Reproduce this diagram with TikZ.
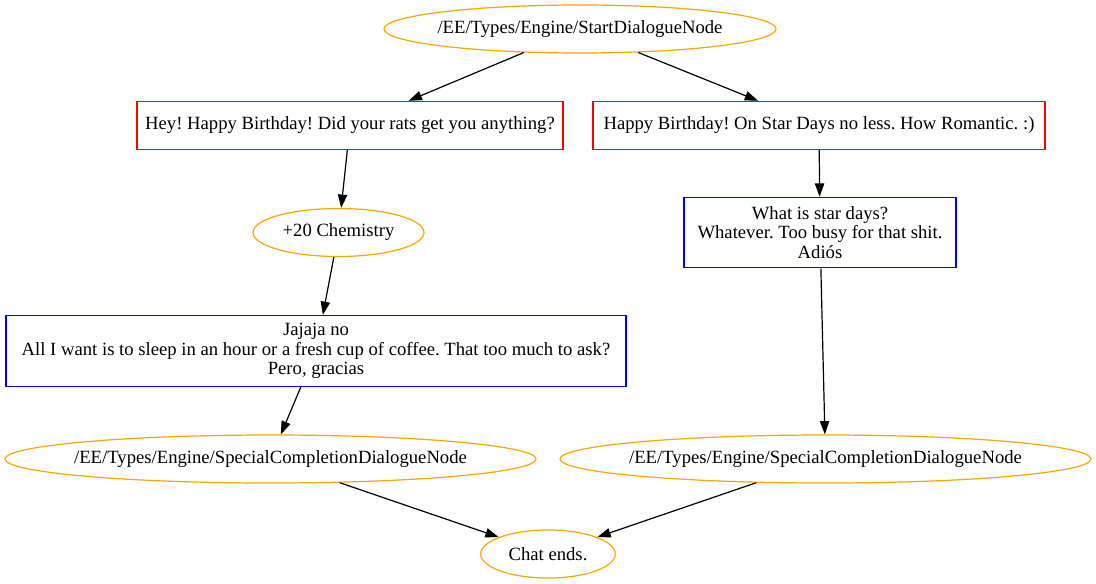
\documentclass[tikz,border=0pt]{standalone}
\usepackage{fontspec}
\setmainfont{Liberation Serif}
\usetikzlibrary{shapes.geometric,arrows.meta}
\definecolor{gvorange}{RGB}{255,165,0}
\definecolor{gvred}{RGB}{255,0,0}
\definecolor{gvblue}{RGB}{0,0,255}
\begin{document}
\frenchspacing
\begin{tikzpicture}[x=1pt,y=-1pt,
  every node/.style={font=\fontsize{18.67}{19.7}\selectfont\frenchspacing, inner sep=0pt, align=center},
  oval/.style={ellipse, draw=gvorange, line width=1.2pt, inner xsep=-40pt, minimum height=48pt},
  redbox/.style={rectangle, draw=gvred, line width=1.2pt, minimum height=48pt},
  bluebox/.style={rectangle, draw=gvblue, line width=1.2pt},
  link/.style={draw=black, line width=1.2pt, -{Triangle[length=13.3pt,width=9.3pt]}}]
\useasboundingbox (0,0) rectangle (1096,584);
\node[oval, minimum width=392pt] (start) at (580,29) {/EE/Types/Engine/StartDialogueNode};
\node[redbox, minimum width=426pt] (b1) at (350,125.4) {Hey! Happy Birthday! Did your rats get you anything?};
\node[redbox, minimum width=452pt] (b2) at (819,125.4) {Happy Birthday! On Star Days no less. How Romantic. :)};
\node[oval, minimum width=171pt] (chem) at (338.5,232.5) {+20 Chemistry};
\node[bluebox, minimum width=272pt, minimum height=70.4pt] (star) at (820,232.5) {What is star days?\\Whatever. Too busy for that shit.\\Adiós};
\node[bluebox, minimum width=620pt, minimum height=71pt] (jaja) at (316,351) {Jajaja no\\All I want is to sleep in an hour or a fresh cup of coffee. That too much to ask?\\Pero, gracias};
\node[oval, minimum width=531pt] (spl) at (270.5,459) {/EE/Types/Engine/SpecialCompletionDialogueNode};
\node[oval, minimum width=531pt] (spr) at (825.5,459) {/EE/Types/Engine/SpecialCompletionDialogueNode};
\node[oval, minimum width=134.6pt] (chat) at (548,554) {Chat ends.};
\draw[link] (start) -- (b1);
\draw[link] (start) -- (b2);
\draw[link] (b1) -- (chem);
\draw[link] (b2) -- (star);
\draw[link] (chem) -- (jaja);
\draw[link] (star) -- (spr);
\draw[link] (jaja) -- (spl);
\draw[link] (spl) -- (chat);
\draw[link] (spr) -- (chat);
\end{tikzpicture}
\end{document}
